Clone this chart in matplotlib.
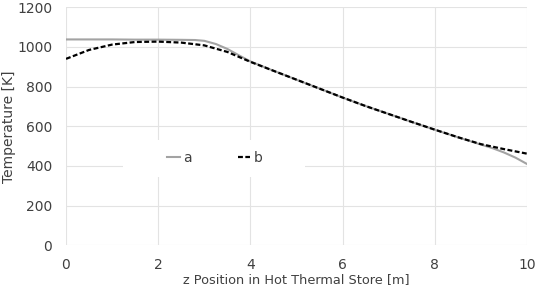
import matplotlib
matplotlib.use('Agg')
import matplotlib.pyplot as plt
from matplotlib.patches import Rectangle

plt.rcParams['font.family'] = ['DejaVu Sans']

# position along the store [m]
z_a = [0, 0.5, 1, 1.5, 2, 2.5, 2.8, 3, 3.25, 3.5, 3.75, 4, 4.5, 5, 5.5, 6, 6.5, 7, 7.5, 8, 8.5, 9, 9.25, 9.5, 9.75, 10]
temp_a = [1038, 1038, 1038, 1037, 1037, 1036, 1035, 1031, 1015, 990, 958, 927, 880, 835, 790, 745, 702, 662, 622, 583, 545, 508, 490, 468, 442, 410]

z_b = [0, 0.5, 1, 1.5, 2, 2.5, 3, 3.5, 4, 4.5, 5, 5.5, 6, 6.5, 7, 7.5, 8, 8.5, 9, 9.5, 10]
temp_b = [940, 985, 1012, 1025, 1027, 1022, 1008, 975, 925, 880, 835, 790, 745, 702, 662, 622, 583, 545, 510, 485, 462]

fig = plt.figure(figsize=(5.36, 2.92), dpi=100)
ax = fig.add_axes([66 / 536, 1 - 245.3 / 292, 461 / 536, 238 / 292])

ax.plot(z_a, temp_a, color='#a3a3a3', lw=1.5, label='a', zorder=3)
ax.plot(z_b, temp_b, color='black', lw=1.6, ls=(0, (2.2, 1.1)), label='b', zorder=4)

ax.set_xlim(0, 10)
ax.set_ylim(0, 1200)
ax.set_xticks(range(0, 11, 2))
ax.set_yticks(range(0, 1201, 200))
ax.grid(True, color='#e3e3e3', lw=0.8)
ax.set_axisbelow(True)
for s in ax.spines.values():
    s.set_visible(False)
ax.tick_params(length=0, labelsize=10, colors='#404040')
ax.tick_params(axis='x', pad=9)
ax.tick_params(axis='y', pad=10)

ax.set_xlabel('z Position in Hot Thermal Store [m]', fontsize=9.3, color='#404040', labelpad=1)
ax.set_ylabel('Temperature [K]', fontsize=10, color='#404040', labelpad=1)

# white box behind legend
ax.add_patch(Rectangle((0.124, 0.287), 0.395, 0.155, transform=ax.transAxes,
                       facecolor='white', edgecolor='none', zorder=2))
ax.legend(loc='center', bbox_to_anchor=(0.323, 0.367), ncol=2, frameon=False,
          fontsize=10, handlelength=0.9, handletextpad=0.25, columnspacing=3.3,
          labelcolor='#404040')

fig.savefig('out.png', dpi=100)
